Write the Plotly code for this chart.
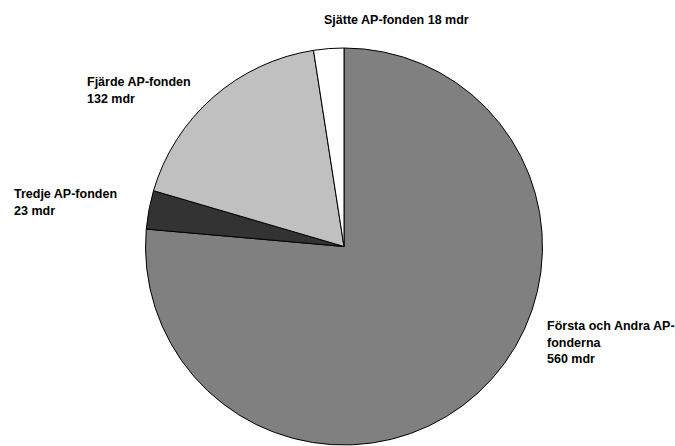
import plotly.graph_objects as go

funds = ["Första och Andra AP-fonderna", "Tredje AP-fonden", "Fjärde AP-fonden", "Sjätte AP-fonden"]
values = [560, 23, 132, 18]
label_lines = [
    ["Första och Andra AP-", "fonderna", "560 mdr"],
    ["Tredje AP-fonden", "23 mdr"],
    ["Fjärde AP-fonden", "132 mdr"],
    ["Sjätte AP-fonden 18 mdr"],
]
colors = ["#808080", "#333333", "#c0c0c0", "#ffffff"]

W, H = 675, 446
cx, cy, r = 344, 246.5, 198.5

fig = go.Figure(go.Pie(
    labels=funds, values=values, sort=False, direction="clockwise", rotation=0,
    marker=dict(colors=colors, line=dict(color="#000000", width=1)),
    textinfo="none", hoverinfo="label+value", showlegend=False,
    domain=dict(x=[(cx - r) / W, (cx + r) / W], y=[(H - cy - r) / H, (H - cy + r) / H]),
))

# label anchor positions (pixels: left x, first-line center y)
positions = [(545, 326), (12, 194), (85, 82), (322, 20)]
line_gap = 16.5
anns = []
for lines, (px, py) in zip(label_lines, positions):
    for i, t in enumerate(lines):
        anns.append(dict(
            x=px / W, y=(H - (py + i * line_gap)) / H, xref="paper", yref="paper",
            text=t, showarrow=False, xanchor="left", yanchor="middle",
            font=dict(family="Liberation Sans, Arial, sans-serif", size=12.5,
                      color="#000000", weight="bold"),
        ))

fig.update_layout(
    width=W, height=H, margin=dict(l=0, r=0, t=0, b=0),
    paper_bgcolor="#ffffff", plot_bgcolor="#ffffff",
    annotations=anns,
)

fig.write_html("out.html", config={"displayModeBar": False})
with open("out.html", "r", encoding="utf-8") as f:
    html = f.read()
html = html.replace("<head>", "<head><style>html,body{margin:0;padding:0;}</style>", 1)
with open("out.html", "w", encoding="utf-8") as f:
    f.write(html)
